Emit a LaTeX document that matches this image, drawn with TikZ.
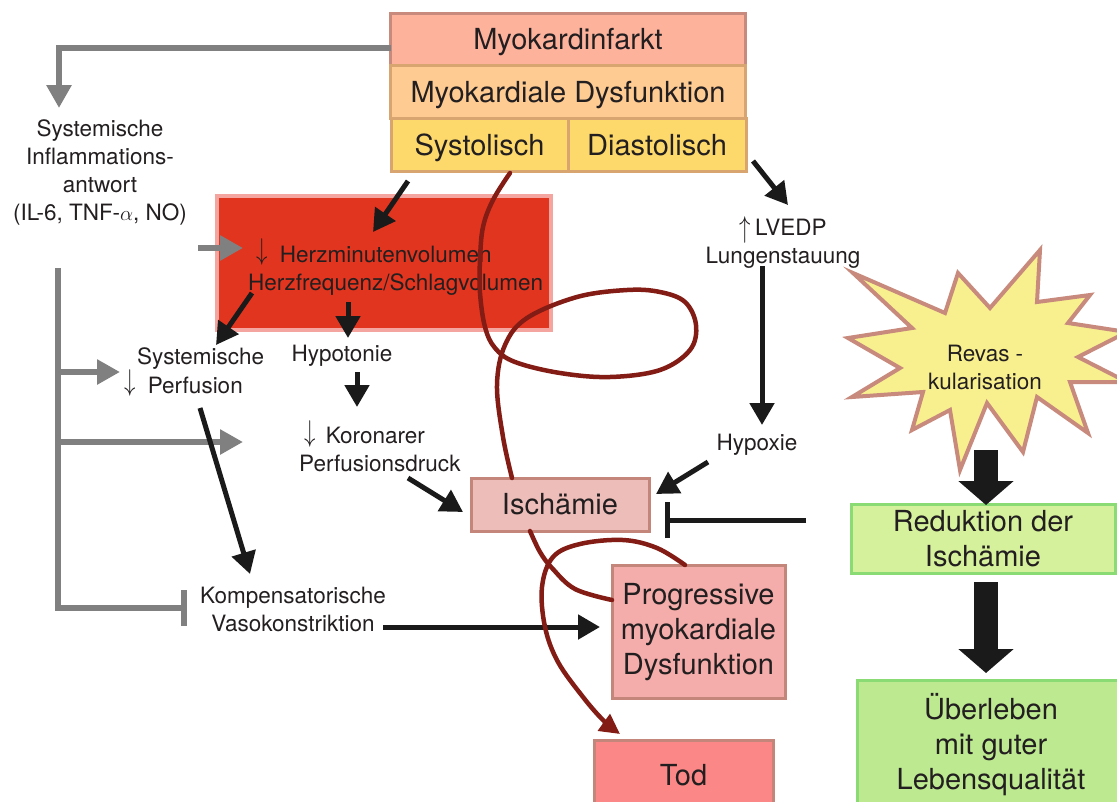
\documentclass[tikz,border=0pt]{standalone}
\usepackage{fontspec}
\usepackage{graphicx}
\setmainfont{TeX Gyre Heros}
\usetikzlibrary{arrows.meta}
\definecolor{txt}{HTML}{231F20}
\definecolor{gry}{HTML}{808080}
\definecolor{blk}{HTML}{1A1A1A}
\definecolor{dred}{HTML}{821C14}
\definecolor{miF}{HTML}{FDB29C}
\definecolor{miD}{HTML}{C88A7C}
\definecolor{mdF}{HTML}{FECB92}
\definecolor{orD}{HTML}{D8A570}
\definecolor{syF}{HTML}{FDD96C}
\definecolor{hzF}{HTML}{E1351F}
\definecolor{hzD}{HTML}{F5A5A0}
\definecolor{isF}{HTML}{EDBEB9}
\definecolor{rdD}{HTML}{C4867A}
\definecolor{prF}{HTML}{F4ADAA}
\definecolor{toF}{HTML}{FB8886}
\definecolor{reF}{HTML}{D6F19C}
\definecolor{grD}{HTML}{8ADB74}
\definecolor{ueF}{HTML}{BDEA91}
\definecolor{stF}{HTML}{F8F08F}
\newcommand\bigf{\fontsize{29}{35}\selectfont}
\newcommand\smf{\fontsize{22.5}{28}\selectfont}
\newcommand\dnarr{\raisebox{2.5pt}{\scalebox{1.1}[1.45]{$\downarrow$}}}
\newcommand\uparr{\raisebox{-2pt}{\scalebox{1.1}[1.45]{$\uparrow$}}}
\begin{document}
\begin{tikzpicture}[x=1pt,y=-1pt]
\tikzset{
 bx/.style={draw, line width=3pt, inner sep=0pt, font=\bigf, text=txt, align=center},
 sm/.style={inner sep=0pt, font=\smf, text=txt, align=center},
 blkarr/.style={draw=blk, line width=5pt, -{Triangle[length=22pt,width=24pt]}},
 gryarr/.style={draw=gry, line width=6pt, -{Triangle[length=23pt,width=24pt]}},
 gbar/.style={draw=gry, line width=6pt, -{Bar[width=36pt]}},
 bbar/.style={draw=blk, line width=5pt, -{Bar[width=36pt]}},
 fatarr/.style={draw=blk, line width=24pt, -{Triangle[length=24pt,width=54pt]}},
 crv/.style={draw=dred, line width=4.5pt, line cap=round},
}
\useasboundingbox (0,0) rectangle (1117,801);
\clip (0,0) rectangle (1117,801);

% top stacked box
\node[bx, fill=miF, draw=miD, minimum width=355pt, minimum height=52pt, text depth=0pt] (mi) at (568,39) {Myokardinfarkt};
\node[bx, fill=mdF, draw=orD, minimum width=355pt, minimum height=53pt, text depth=0pt] (md) at (568,91.5) {Myokardiale Dysfunktion};
\node[bx, fill=syF, draw=orD, minimum width=177pt, minimum height=53pt, text depth=0pt] (sys) at (479.5,144.5) {Systolisch};
\node[bx, fill=syF, draw=orD, minimum width=178pt, minimum height=53pt, text depth=0pt] (dia) at (657,144.5) {Diastolisch};

% red box
\node[draw=hzD, fill=hzF, line width=4pt, minimum width=334pt, minimum height=134pt, inner sep=0pt] (herz) at (384,263) {};
\node[sm, align=left, anchor=west] (herzt) at (248,267) {\hspace{8pt}\dnarr\hspace{6pt} Herzminutenvolumen\\Herzfrequenz/Schlagvolumen};

% text nodes
\node[sm] (infl) at (100,172) {Systemische\\Inflammations-\\antwort\\(IL-6, TNF-$\alpha$, NO)};
\node[sm, align=left, anchor=west] (perf) at (124,372) {\hspace{13pt}Systemische\\\dnarr\hspace{6pt} Perfusion};
\node[sm] (hypo) at (342,356) {Hypotonie};
\node[sm, align=left, anchor=west] (kor) at (299,446) {\hspace{5pt}\dnarr\hspace{4pt} Koronarer\\Perfusionsdruck};
\node[sm] (komp) at (293,609) {Kompensatorische\\Vasokonstriktion};
\node[sm] (lvedp) at (783,243) {\uparr\hspace{-2pt} LVEDP\\Lungenstauung};
\node[sm] (hypox) at (757,445) {Hypoxie};

% boxes
\node[bx, fill=isF, draw=rdD, minimum width=178pt, minimum height=53pt] (isch) at (560,504.5) {Isch\"amie};
\node[bx, fill=prF, draw=rdD, minimum width=173pt, minimum height=133pt] (prog) at (698.5,632) {Progressive\\myokardiale\\Dysfunktion};
\node[bx, fill=toF, draw=rdD, minimum width=179pt, minimum height=70pt] (tod) at (683.5,775) {Tod};
\node[bx, fill=reF, draw=grD, minimum width=264pt, minimum height=69pt] (redu) at (983,538.5) {Reduktion der\\Isch\"amie};
\node[bx, fill=ueF, draw=grD, minimum width=267pt, minimum height=130pt] (ueb) at (991,745) {\"Uberleben\\mit guter\\Lebensqualit\"at};

% star
\draw[draw=miD, fill=stF, line width=4pt, line join=miter]
 (853,273) -- (945,313) -- (958,273) -- (990,308) -- (1040,250) -- (1037,302) -- (1090,295) -- (1068,323)
 -- (1127,332) -- (1078,357) -- (1127,382) -- (1070,382) -- (1088,433) -- (1037,397) -- (1023,452)
 -- (987,403) -- (960,470) -- (950,410) -- (912,430) -- (923,392) -- (852,397) -- (900,368)
 -- (848,338) -- (912,328) -- cycle;
\node[sm] (revas) at (985,367) {Revas -\\kularisation};

% coordinates
\coordinate (g0) at (391,48);
\coordinate (g1) at (59,108);
\coordinate (g2s) at (198,248);
\coordinate (g2e) at (243,248);
\coordinate (busT) at (58,268);
\coordinate (busB) at (58,608);
\coordinate (busE) at (187,608);
\coordinate (b1s) at (58,372);
\coordinate (b1e) at (120,372);
\coordinate (b2s) at (58,442);
\coordinate (b2e) at (243,442);

% gray connectors
\draw[gryarr] (g0) -| (g1);
\draw[gryarr] (g2s) -- (g2e);
\draw[gbar] (busT) -- (busB) -- (busE);
\draw[gryarr] (b1s) -- (b1e);
\draw[gryarr] (b2s) -- (b2e);

% black connectors
\draw[blkarr] (408,181) -- (373,232);
\draw[blkarr] (252,293) -- (216,345);
\draw[blkarr] (348,302) -- (348,338);
\draw[blkarr] (357,372) -- (357,407);
\draw[blkarr] (408,478) -- (463,512);
\draw[blkarr] (200,408) -- (250,574);
\draw[blkarr] (383,627) -- (600,627);
\draw[blkarr] (753,161) -- (788,205);
\draw[blkarr] (762,266) -- (762,425);
\draw[blkarr] (708,462) -- (656,494);
\draw[bbar] (806,520) -- (665,520);

% fat arrows
\draw[fatarr] (986,450) -- (986,505);
\draw[fatarr] (986,582) -- (986,673);

% dark red curves
\draw[crv] plot[smooth, tension=0.6] coordinates {(510,173) (493,200) (483,227) (480,260) (480,293) (485,327) (495,348) (515,362) (560,373) (610,377) (660,370) (690,350) (696,325) (685,302) (660,292) (627,290) (577,297) (527,318) (505,345) (497,385) (503,437) (512,478)};
\draw[crv] plot[smooth, tension=0.6] coordinates {(530,531) (540,552) (552,568) (575,589) (612,600)};
\draw[crv, -{Triangle[length=20pt,width=20pt]}] plot[smooth, tension=0.6] coordinates {(685,565) (657,548) (623,540) (580,544) (553,557) (542,587) (545,627) (558,662) (583,697) (603,720) (620,734)};
\end{tikzpicture}
\end{document}
